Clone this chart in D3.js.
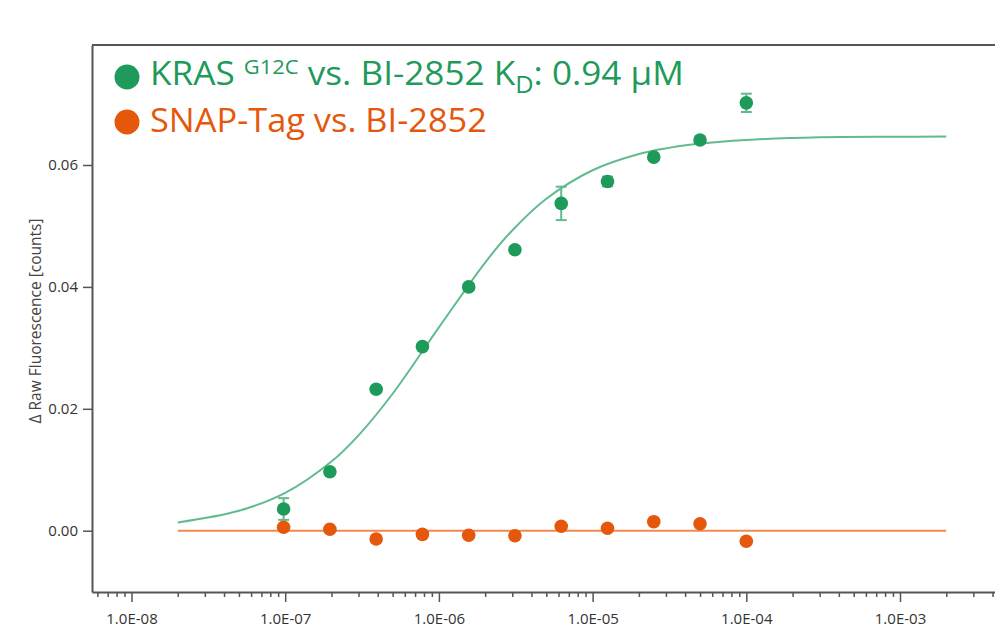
<!DOCTYPE html>
<html>
<head>
<meta charset="utf-8">
<script src="https://cdn.jsdelivr.net/npm/d3@7"></script>
<style>
  body { margin: 0; background: #fff; }
  svg { display: block; }
  .tick text { font-family: "Open Sans", sans-serif; fill: #333; }
</style>
</head>
<body>
<div id="chart"></div>
<script>
// Data

// 2-fold dilution series of BI-2852 (M)
const concentrations = [9.765625e-8, 1.953125e-7, 3.90625e-7, 7.8125e-7, 1.5625e-6, 3.125e-6, 6.25e-6, 1.25e-5, 2.5e-5, 5e-5, 1e-4];

// KRAS G12C measured response + error
const krasValues = [0.00356, 0.00968, 0.0232, 0.0302, 0.0400, 0.0461, 0.0537, 0.0573, 0.0613, 0.0641, 0.0702];
const krasErrors = [0.00178, 0.0005, 0.0005, 0.0005, 0.0005, 0.0005, 0.00274, 0.0008, 0.0005, 0.0004, 0.0015];

// SNAP-Tag control
const snapValues = [0.00056, 0.00023, -0.00136, -0.0006, -0.00075, -0.00082, 0.00072, 0.0004, 0.00148, 0.00115, -0.00174];

// fitted curves
const krasFitConc = [2e-8, 5e-8, 1e-7, 2e-7, 3e-7, 5e-7, 1e-6, 2e-6, 3e-6, 5e-6, 1e-5, 2e-5, 3e-5, 5e-5, 1e-4, 3e-4, 1e-3, 2e-3];
const krasFitValues = [0.00135, 0.00327, 0.0062, 0.01135, 0.01565, 0.02247, 0.03335, 0.0440, 0.04926, 0.05446, 0.05914, 0.0618, 0.06273, 0.06351, 0.0641, 0.06456, 0.06464, 0.06467];
const snapFitConc = [2e-8, 2e-3];
const snapFitValues = [0, 0];

const yTicks = [0, 0.02, 0.04, 0.06];
const xMajorTicks = [1e-8, 1e-7, 1e-6, 1e-5, 1e-4, 1e-3];

// Dimensions
const width = 995;
const height = 630;
const plot = { left: 92, right: 995, top: 45, bottom: 592 };

const green = "#1e9a5a";
const greenLine = "#62bb8f";
const orange = "#e5580b";
const orangeLine = "#ef8a52";
const frameColor = "#555";

let svg = d3.select("#chart").append("svg")
    .attr("width", width)
    .attr("height", height);

// Scales
let x = d3.scaleLog()
    .domain([1e-8, 1e-3])
    .range([131.5, 900]);

let y = d3.scaleLinear()
    .domain([0, 0.06])
    .range([530.7, 165]);

// clip to plot area
svg.append("clipPath").attr("id", "clip")
    .append("rect")
    .attr("x", plot.left).attr("y", plot.top)
    .attr("width", plot.right - plot.left).attr("height", plot.bottom - plot.top);

// ------------ AXES ------------ //

// x axis: extend scale to the visible plot edge so minor ticks fill it
let xAxisScale = x.copy()
    .domain([x.invert(plot.left), x.invert(plot.right)])
    .range([plot.left, plot.right]);

function sciLabel(d) {
    const e = Math.round(Math.log10(d));
    return "1.0E" + (e < 0 ? "-" : "+") + String(Math.abs(e)).padStart(2, "0");
}

function isMajor(d) {
    return xMajorTicks.some(t => Math.abs(t - d) / t < 1e-6);
}

let xAxis = svg.append("g")
    .attr("transform", `translate(0,${plot.bottom})`)
    .call(d3.axisBottom(xAxisScale)
        .ticks(10)
        .tickSize(5)
        .tickSizeOuter(0)
        .tickFormat(d => isMajor(d) ? sciLabel(d) : ""));

xAxis.select(".domain").attr("stroke", frameColor).attr("stroke-width", 2);
xAxis.selectAll(".tick line")
    .attr("stroke", frameColor)
    .attr("stroke-width", 1.5)
    .attr("y2", d => isMajor(d) ? 10 : 5);
xAxis.selectAll(".tick text")
    .attr("y", 21)
    .attr("font-size", "15px");

let yAxis = svg.append("g")
    .attr("transform", `translate(${plot.left},0)`)
    .call(d3.axisLeft(y.copy().domain([y.invert(plot.bottom), y.invert(plot.top)]).range([plot.bottom, plot.top]))
        .tickValues(yTicks)
        .tickSize(9)
        .tickSizeOuter(0)
        .tickPadding(5)
        .tickFormat(d3.format(".2f")));

yAxis.select(".domain").attr("stroke", frameColor).attr("stroke-width", 2);
yAxis.selectAll(".tick line").attr("stroke", frameColor).attr("stroke-width", 1.5);
yAxis.selectAll(".tick text").attr("font-size", "15px");

// top frame line
svg.append("line")
    .attr("x1", plot.left).attr("x2", plot.right)
    .attr("y1", plot.top).attr("y2", plot.top)
    .attr("stroke", frameColor).attr("stroke-width", 2);

// y axis title
svg.append("text")
    .attr("transform", "translate(41,321) rotate(-90)")
    .attr("text-anchor", "middle")
    .attr("font-family", "'Open Sans', sans-serif")
    .attr("font-size", "15.5px")
    .attr("fill", "#444")
    .text("\u0394 Raw Fluorescence [counts]");

// ------------ DATA ------------ //

let g = svg.append("g").attr("clip-path", "url(#clip)");

let line = d3.line()
    .x(d => x(d[0]))
    .y(d => y(d[1]))
    .curve(d3.curveCatmullRom);

g.append("path")
    .datum(snapFitConc.map((c, i) => [c, snapFitValues[i]]))
    .attr("d", line)
    .attr("fill", "none")
    .attr("stroke", orangeLine)
    .attr("stroke-width", 2);

g.append("path")
    .datum(krasFitConc.map((c, i) => [c, krasFitValues[i]]))
    .attr("d", line)
    .attr("fill", "none")
    .attr("stroke", greenLine)
    .attr("stroke-width", 2);

// error bars for KRAS
let errData = concentrations.map((c, i) => ({ c: c, v: krasValues[i], e: krasErrors[i] }));
let errG = g.append("g")
    .attr("stroke", greenLine)
    .attr("stroke-width", 2);

errG.selectAll("line.stem").data(errData).enter().append("line")
    .attr("class", "stem")
    .attr("x1", d => x(d.c)).attr("x2", d => x(d.c))
    .attr("y1", d => y(d.v - d.e)).attr("y2", d => y(d.v + d.e));

errG.selectAll("line.capTop").data(errData).enter().append("line")
    .attr("class", "capTop")
    .attr("x1", d => x(d.c) - 5.5).attr("x2", d => x(d.c) + 5.5)
    .attr("y1", d => y(d.v + d.e)).attr("y2", d => y(d.v + d.e));

errG.selectAll("line.capBottom").data(errData).enter().append("line")
    .attr("class", "capBottom")
    .attr("x1", d => x(d.c) - 5.5).attr("x2", d => x(d.c) + 5.5)
    .attr("y1", d => y(d.v - d.e)).attr("y2", d => y(d.v - d.e));

// points
g.append("g").selectAll("circle")
    .data(concentrations.map((c, i) => [c, snapValues[i]]))
    .enter().append("circle")
    .attr("cx", d => x(d[0]))
    .attr("cy", d => y(d[1]))
    .attr("r", 6.8)
    .attr("fill", orange);

g.append("g").selectAll("circle")
    .data(concentrations.map((c, i) => [c, krasValues[i]]))
    .enter().append("circle")
    .attr("cx", d => x(d[0]))
    .attr("cy", d => y(d[1]))
    .attr("r", 6.8)
    .attr("fill", green);

// ------------ LEGEND ------------ //

const legendX = 150;

function fitWidth(sel, target) {
    let w = sel.node().getBBox().width;
    sel.attr("transform", `translate(${legendX},0) scale(${target / w},1) translate(${-legendX},0)`);
}

svg.append("circle").attr("cx", 127).attr("cy", 77).attr("r", 12.5).attr("fill", green);
svg.append("circle").attr("cx", 127).attr("cy", 122).attr("r", 12.5).attr("fill", orange);

let leg1 = svg.append("text")
    .attr("x", legendX).attr("y", 85)
    .attr("font-family", "'Open Sans', sans-serif")
    .attr("font-size", "32px")
    .attr("fill", green);
leg1.append("tspan").text("KRAS ");
leg1.append("tspan").attr("font-size", "20px").attr("dy", -11).text("G12C");
leg1.append("tspan").attr("dy", 11).text(" vs. BI-2852 K");
leg1.append("tspan").attr("font-size", "23px").attr("dy", 8).text("D");
leg1.append("tspan").attr("dy", -8).text(": 0.94 \u00b5M");
fitWidth(leg1, 534);

let leg2 = svg.append("text")
    .attr("x", legendX).attr("y", 132.5)
    .attr("font-family", "'Open Sans', sans-serif")
    .attr("font-size", "32px")
    .attr("fill", orange)
    .text("SNAP-Tag vs. BI-2852");
fitWidth(leg2, 337);
</script>
</body>
</html>
